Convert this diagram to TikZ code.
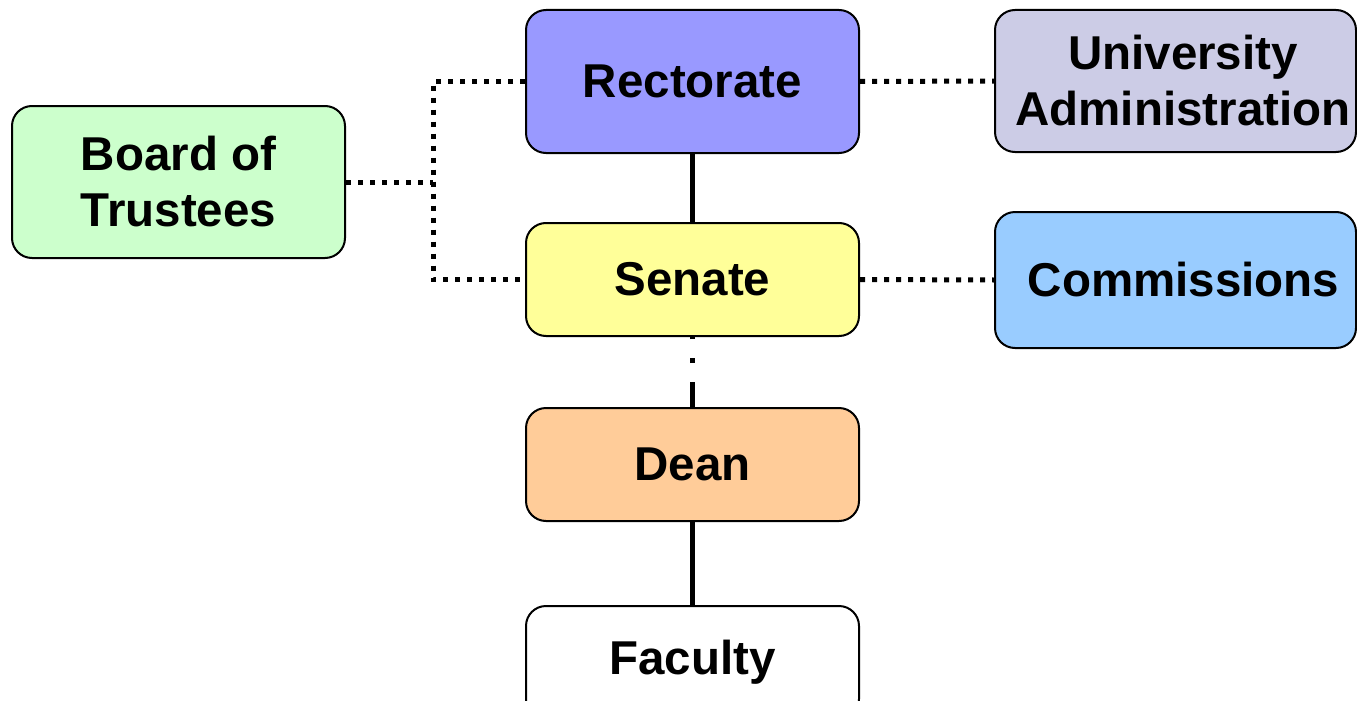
\documentclass[tikz,border=0pt]{standalone}
\usepackage{fontspec}
\setmainfont{Liberation Sans}
\begin{document}
\begin{tikzpicture}[x=1pt,y=-1pt,
  orgbox/.style={draw=black, line width=2pt, rounded corners=20pt, inner sep=0pt,
    align=center, font=\fontsize{47.5}{56}\selectfont\bfseries},
  midbox/.style={orgbox, minimum width=333pt, minimum height=113pt},
  boxtext/.style={inner sep=0pt, align=center, font=\fontsize{47.5}{56}\selectfont\bfseries},
  dotline/.style={line width=5pt, dash pattern=on 5pt off 7pt},
  solidline/.style={line width=5pt},
  dashdotline/.style={line width=5pt, dash pattern=on 25pt off 19pt on 5pt off 19pt}]
\clip (0,0) rectangle (1357,701);

% boxes
\node[orgbox, fill={rgb,255:red,153;green,153;blue,255}, minimum width=333pt, minimum height=143pt]
  (rect) at (692.5,81.5) {Rectorate};
\node[orgbox, fill={rgb,255:red,204;green,255;blue,204}, minimum width=333pt, minimum height=152pt]
  (board) at (178.5,182) {Board of\\Trustees};
\node[orgbox, fill={rgb,255:red,204;green,204;blue,230}, minimum width=361pt, minimum height=142pt]
  (admin) at (1175.5,81) {};
\node[boxtext] (admintext) at (1183,81) {University\\Administration};
\node[midbox, fill={rgb,255:red,255;green,255;blue,153}] (senate) at (692.5,279.5) {Senate};
\node[orgbox, fill={rgb,255:red,153;green,204;blue,255}, minimum width=361pt, minimum height=136pt]
  (comm) at (1175.5,280) {};
\node[boxtext] (commtext) at (1183.5,280) {Commissions};
\node[midbox, fill={rgb,255:red,255;green,204;blue,153}] (dean) at (692.5,464.5) {Dean};
\node[midbox, fill=white] (fac) at (692.5,662.5) {Faculty};

% junction of the trustees' dotted links
\coordinate (jt) at (433,81.5);
\coordinate (jb) at (433,279.5);

% connectors
\draw[solidline] (rect.south) -- (senate.north);
\draw[dashdotline] (dean.north) -- (senate.south);
\draw[solidline] (dean.south) -- (fac.north);
\draw[dotline] (rect.west) -- (jt) -- (jb) -- (senate.west);
\draw[dotline] (board.east) -- (board.east -| jt);
\draw[dotline] (rect.east) -- (admin.west);
\draw[dotline] (senate.east) -- (comm.west);
\end{tikzpicture}
\end{document}
